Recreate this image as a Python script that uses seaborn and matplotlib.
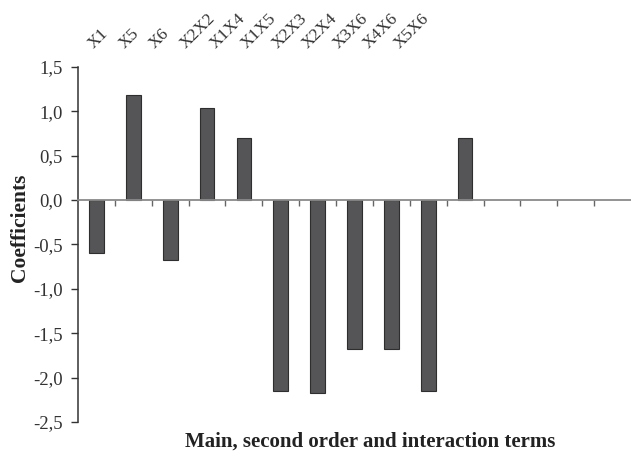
import numpy as np
import matplotlib.pyplot as plt
import seaborn as sns

# ── Data ─────────────────────────────────────────────────────
terms = ["X1", "X5", "X6", "X2X2", "X1X4", "X1X5",
         "X2X3", "X2X4", "X3X6", "X4X6", "X5X6"]
coefs = [-0.60, 1.18, -0.68, 1.04, 0.70, -2.15,
         -2.17, -1.68, -1.68, -2.15, 0.70]
yticks = [-2.5, -2.0, -1.5, -1.0, -0.5, 0.0, 0.5, 1.0, 1.5]

n_slots = 15          # axis has room for 15 terms, only 11 used
label_step = 0.83     # top labels are packed tighter than the bars

sns.set_style("white")
plt.rcParams["font.family"] = ["Liberation Serif", "DejaVu Serif"]

fig = plt.figure(figsize=(6.31, 4.58), dpi=100)
ax = fig.add_axes([0.1236, 0.0786, 0.8764, 0.7754])

sns.barplot(x=terms, y=coefs, color="#555558", width=0.4,
            edgecolor="#2e2e2e", linewidth=0.8, saturation=1, ax=ax)

ax.set_xlim(-0.5, n_slots - 0.5)
ax.set_ylim(yticks[0], yticks[-1])

# y axis
ax.set_yticks(yticks)
ax.set_yticklabels([f"{v:.1f}".replace(".", ",") for v in yticks],
                   fontsize=13.5, color="#333333")
ax.tick_params(axis="y", direction="out", length=5, width=1,
               color="#333333", pad=6, left=True)

# zero line as x axis, ticks between terms
for s in ["top", "right"]:
    ax.spines[s].set_visible(False)
ax.spines["left"].set_color("#333333")
ax.spines["left"].set_linewidth(1.1)
ax.spines["bottom"].set_position(("data", 0))
ax.spines["bottom"].set_color("#8a8a8a")
ax.spines["bottom"].set_linewidth(1.3)

ax.set_xticks(np.arange(len(terms)) * label_step, terms)
ax.set_xticks(np.arange(0.5, n_slots - 1, 1), minor=True)
ax.tick_params(axis="x", which="major", length=0, bottom=False, top=False,
               labelbottom=False, labeltop=True, pad=11)
ax.tick_params(axis="x", which="minor", bottom=True, top=False,
               direction="out", length=4, width=1, color="#666666")
for t in ax.xaxis.get_major_ticks():
    t.label2.set_rotation(45)
    t.label2.set_ha("left")
    t.label2.set_va("bottom")
    t.label2.set_rotation_mode("anchor")
    t.label2.set_fontsize(12.5)
    t.label2.set_color("#333333")

ax.set_ylabel("Coefficients", fontsize=15.5, fontweight="bold",
              color="#222222")
ax.yaxis.set_label_coords(-0.086, 0.546)
ax.set_xlabel("")
fig.text(0.586, 0.035, "Main, second order and interaction terms",
         ha="center", va="center", fontsize=15, fontweight="bold",
         color="#222222")

fig.savefig("out.png", dpi=100)
plt.close(fig)
